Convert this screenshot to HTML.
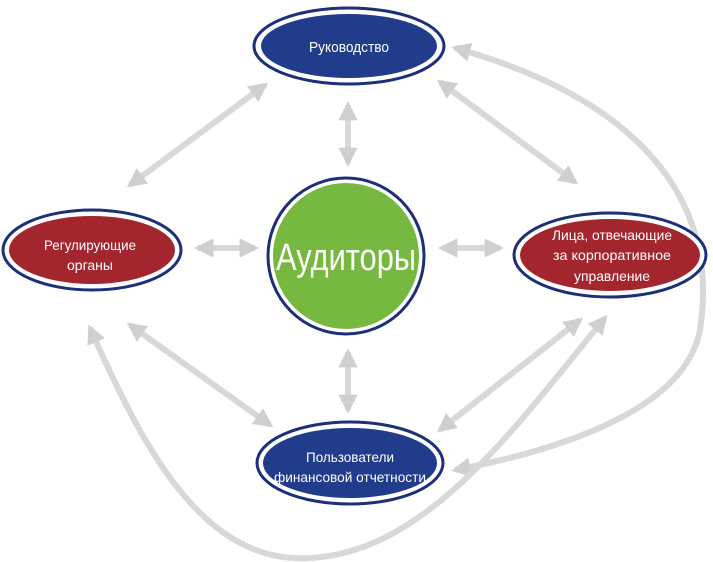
<!DOCTYPE html>
<html><head><meta charset="utf-8"><style>
html,body{margin:0;padding:0;background:#fff;width:713px;height:562px;overflow:hidden}
svg{display:block}
text{font-family:"Liberation Sans",sans-serif;fill:#fff;text-anchor:middle}
</style></head><body>
<svg width="713" height="562" viewBox="0 0 713 562">
<defs>
<marker id="h" viewBox="0 0 10 10" refX="8" refY="5" markerWidth="3.2" markerHeight="3.2" orient="auto-start-reverse" markerUnits="strokeWidth">
<path d="M0,0 L10,5 L0,10 Z" fill="#cfcfcf"/></marker>
</defs>
<g stroke="#d8d8d8" stroke-width="6" fill="none" marker-start="url(#h)" marker-end="url(#h)">
<line x1="348" y1="105" x2="348" y2="163"/>
<line x1="348" y1="352" x2="348" y2="410"/>
<line x1="198" y1="248" x2="255" y2="248"/>
<line x1="442" y1="248" x2="500" y2="248"/>
<line x1="265" y1="85" x2="130" y2="185"/>
<line x1="440" y1="82" x2="575" y2="182"/>
<line x1="130" y1="325" x2="270" y2="425"/>
<line x1="440" y1="430" x2="580" y2="320"/>
<path d="M455,48 C640,100 720,200 700,330 C685,410 560,450 455,470"/>
<path d="M90,328 C140,440 200,565 310,558 C430,552 520,420 605,318"/>
</g>
<g stroke="#1c2f78" stroke-width="3">
<ellipse cx="349" cy="46" rx="95" ry="38" fill="#fff"/>
<ellipse cx="349" cy="46" rx="88" ry="32" fill="#223c8c" stroke="none"/>
<ellipse cx="92" cy="250" rx="89" ry="40" fill="#fff"/>
<ellipse cx="92" cy="250" rx="83" ry="34" fill="#a3252e" stroke="none"/>
<circle cx="346" cy="256" r="78" fill="#fff"/>
<circle cx="346" cy="256" r="73" fill="#77b840" stroke="none"/>
<ellipse cx="610" cy="255" rx="96" ry="42" fill="#fff"/>
<ellipse cx="610" cy="255" rx="90" ry="36" fill="#a3252e" stroke="none"/>
<ellipse cx="350" cy="463" rx="93" ry="41" fill="#fff"/>
<ellipse cx="350" cy="463" rx="87" ry="35" fill="#223c8c" stroke="none"/>
</g>
<g lengthAdjust="spacingAndGlyphs">
<text x="349" y="52" font-size="15" textLength="80" lengthAdjust="spacingAndGlyphs">Руководство</text>
<text x="90" y="250" font-size="14" textLength="92" lengthAdjust="spacingAndGlyphs">Регулирующие</text>
<text x="90" y="270" font-size="14" textLength="46" lengthAdjust="spacingAndGlyphs">органы</text>
<text x="346" y="270" font-size="38" textLength="140" lengthAdjust="spacingAndGlyphs">Аудиторы</text>
<text x="612" y="240" font-size="14" textLength="120" lengthAdjust="spacingAndGlyphs">Лица, отвечающие</text>
<text x="612" y="260" font-size="14" textLength="118" lengthAdjust="spacingAndGlyphs">за корпоративное</text>
<text x="612" y="281" font-size="14" textLength="76" lengthAdjust="spacingAndGlyphs">управление</text>
<text x="350" y="462" font-size="14" textLength="88" lengthAdjust="spacingAndGlyphs">Пользователи</text>
<text x="350" y="482" font-size="14" textLength="152" lengthAdjust="spacingAndGlyphs">финансовой отчетности</text>
</g>
</svg>
</body></html>
